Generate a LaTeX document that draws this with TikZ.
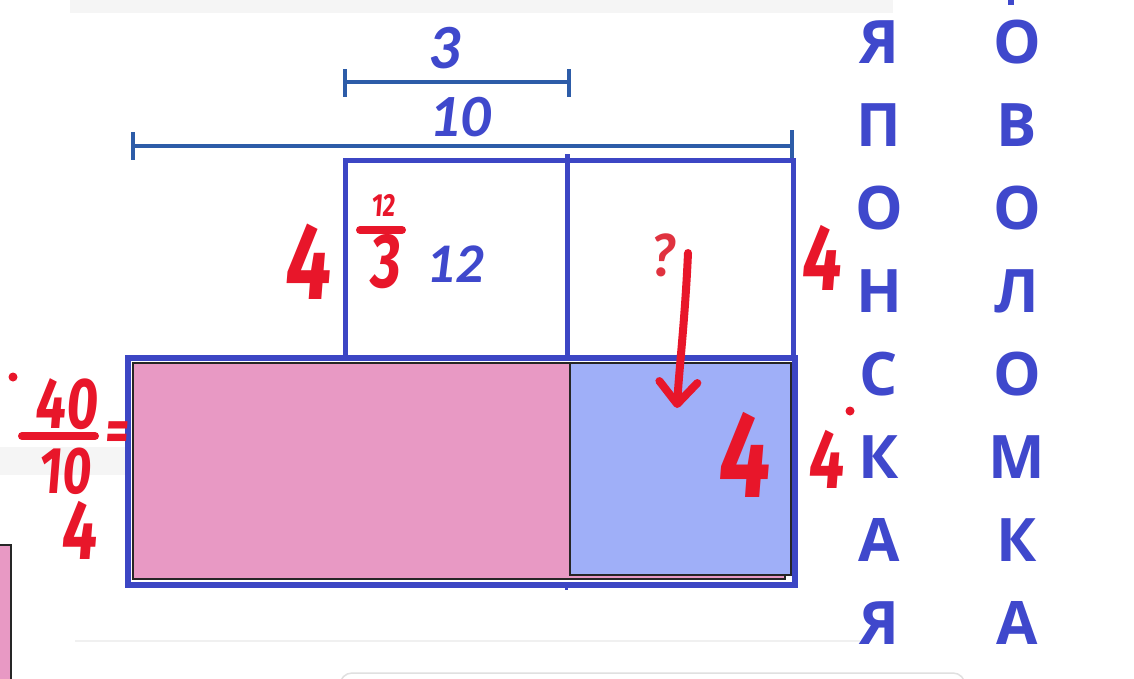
\documentclass[tikz,border=0pt]{standalone}
\usepackage{fontspec}
\setmainfont{Open Sans}
\newfontfamily\labfont{Carlito}
\newfontfamily\handfont[FakeStretch=0.75,FakeSlant=0.08]{Fira Sans}
\usetikzlibrary{arrows.meta}
\newcommand{\fsz}[1]{\fontsize{#1}{#1}\selectfont}
\definecolor{letblue}{HTML}{3F48CC}
\definecolor{rectblue}{HTML}{3C46C4}
\definecolor{barblue}{HTML}{2D5CA8}
\definecolor{pinkc}{HTML}{E899C4}
\definecolor{lightbl}{HTML}{9FAFF8}
\definecolor{redc}{HTML}{E8162A}
\definecolor{qred}{HTML}{E0323F}
\tikzset{
  cyrl/.style={text=letblue, inner sep=0pt, font=\fsz{60}\bfseries},
  lab/.style={text=letblue, inner sep=0pt, font=\labfont\bfseries\itshape\fsz{#1}},
  hand/.style={text=redc, inner sep=0pt, font=\handfont\bfseries\fsz{#1}},
  frame/.style={draw=rectblue, line width=5pt},
  dimline/.style={draw=barblue, line width=3.5pt},
  redstroke/.style={draw=redc, line width=8pt, line cap=round}
}
\begin{document}
\begin{tikzpicture}[x=1pt,y=-1pt]
\useasboundingbox (0,0) rectangle (1134,678);
\fill[white] (0,0) rectangle (1134,678);
% screenshot background bits
\fill[black!4] (70,0) rectangle (893,13);
\fill[black!4] (0,447) rectangle (128,475);
\draw[black!6, line width=2pt] (75,641) -- (860,641);
\draw[black!12, line width=1.5pt, rounded corners=12pt] (340,700) -- (340,673) -- (965,673) -- (965,700);
\filldraw[fill=pinkc, draw=black!85, line width=2pt] (-10,545) rectangle (11,700);
\fill[letblue] (1008,0) rectangle (1014,5);

% dimension lines
\draw[dimline] (345,82) -- (569,82);
\draw[dimline] (345,69) -- (345,97);
\draw[dimline] (569,69) -- (569,97);
\draw[dimline] (133,146) -- (792,146);
\draw[dimline] (133,132) -- (133,160);
\draw[dimline] (792,130) -- (792,160);
\node[lab=63] (l3) at (444,48) {3};
\node[lab=60] (l10) at (460,117) {10};

% upper boxes
\draw[frame] (345,358) -- (345,160) -- (793,160) -- (793,358);
\draw[frame] (567,154) -- (567,358);
% big rectangle
\draw[rectblue, line width=6pt] (128,358) rectangle (795,585);
\filldraw[fill=pinkc, draw=black!85, line width=1.5pt] (133,363) rectangle (785,579);
\filldraw[fill=lightbl, draw=black!85, line width=1.5pt] (570,363) rectangle (791,575);
\draw[rectblue, line width=3pt] (566,585) -- (566,590);

\node[lab=56] (l12) at (455,264) {12};

% red annotations
\node[hand=109] (h4a) at (307,262) {4};
\node[hand=32] (n12) at (383,205) {12};
\draw[redstroke] (360,230) -- (402,230);
\node[hand=77] (d3) at (385,262) {3};
\node[text=qred, inner sep=0pt, font=\labfont\bfseries\itshape\fsz{62}] (q) at (663,255) {?};
\coordinate (aS) at (688,253);
\coordinate (aE) at (677,408);
\draw[redstroke, -{Straight Barb[length=22pt,width=38pt,round]}] (aS) .. controls (685,320) and (679,370) .. (aE);
\node[hand=94] (h4b) at (820,258) {4};
\node[hand=123] (h4c) at (743,455) {4};
\node[hand=84] (h4d) at (825,459) {4};
\fill[redc] (850,411) circle (4.5);
\fill[redc] (13,377) circle (4.5);
\node[hand=72] (n40) at (66,404) {40};
\draw[redstroke] (22,436) -- (95,436);
\node[hand=66, align=left, anchor=north west] (n10) at (38,448) {10\\\hspace*{22pt}{\fsz{84}4}};
\node[hand=60] (eq) at (116,437) {=};

% letter columns
\foreach \ch [count=\i] in {Я,П,О,Н,С,К,А,Я}
  \node[cyrl] (c\i) at (879,{42+83*(\i-1)}) {\ch};
\foreach \ch [count=\i] in {О,В,О,Л,О,М,К,А}
  \node[cyrl] (d\i) at (1017,{42+83*(\i-1)}) {\ch};
\end{tikzpicture}
\end{document}
